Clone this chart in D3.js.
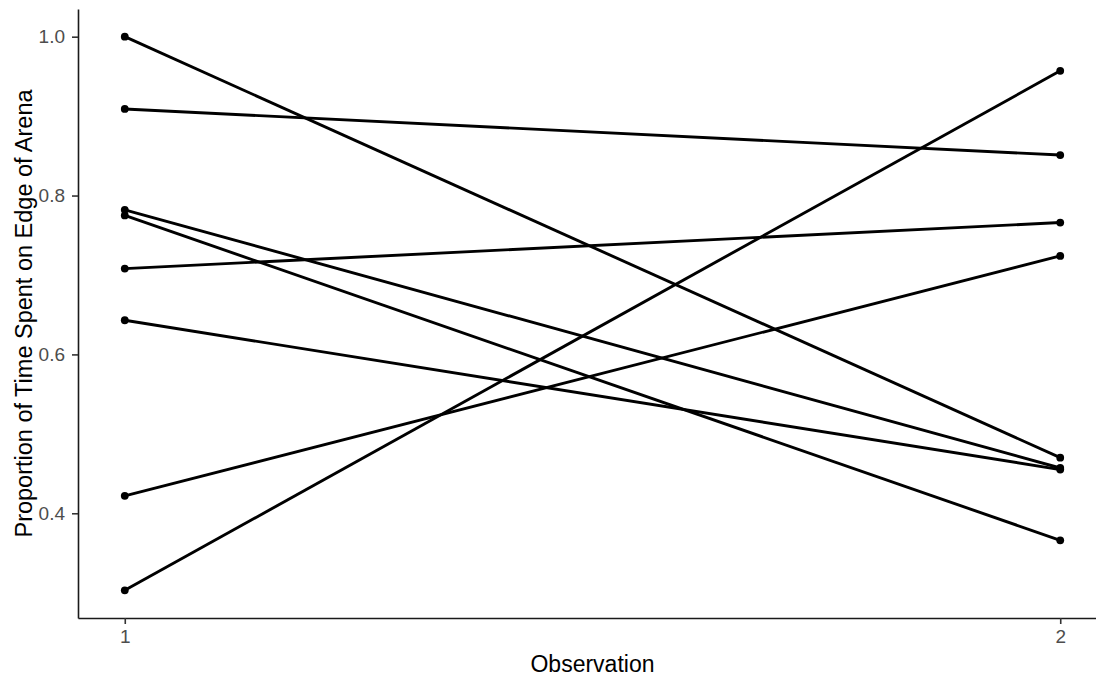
<!DOCTYPE html>
<html>
<head>
<meta charset="utf-8">
<script src="https://cdn.jsdelivr.net/npm/d3@7"></script>
<style>
  body { margin: 0; background: #fff; }
  text { font-family: "Liberation Sans", Arial, sans-serif; }
</style>
</head>
<body>
<div id="chart-area"></div>
<script>
var observations = [1, 2];
var obs1 = [1.000, 0.909, 0.782, 0.775, 0.708, 0.643, 0.422, 0.303];
var obs2 = [0.470, 0.851, 0.457, 0.366, 0.766, 0.455, 0.724, 0.957];
var yTicks = [0.4, 0.6, 0.8, 1.0];
var xTicks = [1, 2];

var width = 1096, height = 684;
var margin = { top: 9, right: -11, bottom: 66, left: 78 };

var svg = d3.select("#chart-area")
    .append("svg")
    .attr("width", width)
    .attr("height", height)
    .style("display", "block");

// ggplot-style 5% expansion on both scales
var xExt = d3.extent(observations), xPad = (xExt[1] - xExt[0]) * 0.05;
var allY = obs1.concat(obs2);
var yExt = d3.extent(allY), yPad = (yExt[1] - yExt[0]) * 0.05;

var x = d3.scaleLinear()
    .domain([xExt[0] - xPad, xExt[1] + xPad])
    .range([margin.left, width - margin.right]);
var y = d3.scaleLinear()
    .domain([yExt[0] - yPad, yExt[1] + yPad])
    .range([height - margin.bottom, margin.top]);

var subjects = obs1.map((v, i) => [
    { obs: observations[0], value: v },
    { obs: observations[1], value: obs2[i] }
]);

var line = d3.line().x(d => x(d.obs)).y(d => y(d.value));

svg.append("g").selectAll("path")
    .data(subjects)
    .enter()
    .append("path")
    .attr("d", line)
    .attr("fill", "none")
    .attr("stroke", "#000")
    .attr("stroke-width", 2.9);

svg.append("g").selectAll("circle")
    .data(subjects.flat())
    .enter()
    .append("circle")
    .attr("cx", d => x(d.obs))
    .attr("cy", d => y(d.value))
    .attr("r", 3.9)
    .attr("fill", "#000");

// Axes
var xAxis = d3.axisBottom(x).tickValues(xTicks).tickFormat(d3.format("d"))
    .tickSize(6).tickPadding(6).tickSizeOuter(0);
var yAxis = d3.axisLeft(y).tickValues(yTicks).tickFormat(d3.format(".1f"))
    .tickSize(6).tickPadding(7).tickSizeOuter(0);

var gx = svg.append("g")
    .attr("transform", `translate(0,${height - margin.bottom})`)
    .call(xAxis);
var gy = svg.append("g")
    .attr("transform", `translate(${margin.left},0)`)
    .call(yAxis);

[gx, gy].forEach(g => {
    g.select(".domain").attr("stroke", "#1a1a1a").attr("stroke-width", 1.6);
    g.selectAll(".tick line").attr("stroke", "#333").attr("stroke-width", 1.6);
    g.selectAll(".tick text")
        .attr("fill", "#4d4d4d")
        .style("font-size", "19px")
        .style("font-family", "'Liberation Sans', Arial, sans-serif");
});

// Axis labels
svg.append("text")
    .attr("x", (margin.left + width - margin.right) / 2)
    .attr("y", 672)
    .attr("text-anchor", "middle")
    .style("font-size", "23px")
    .attr("fill", "#000")
    .text("Observation");

svg.append("text")
    .attr("transform", "rotate(-90)")
    .attr("x", -(margin.top + height - margin.bottom) / 2)
    .attr("y", 32)
    .attr("text-anchor", "middle")
    .style("font-size", "23.5px")
    .attr("fill", "#000")
    .text("Proportion of Time Spent on Edge of Arena");
</script>
</body>
</html>
